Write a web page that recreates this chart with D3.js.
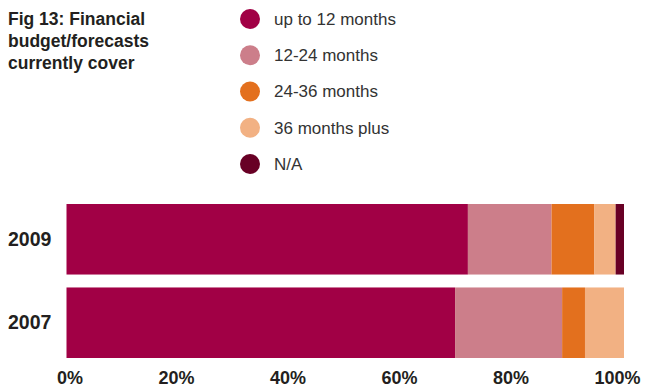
<!DOCTYPE html>
<html>
<head>
<meta charset="utf-8">
<script src="https://cdn.jsdelivr.net/npm/d3@7"></script>
<style>
  html, body { margin: 0; padding: 0; background: #fff; }
  svg { display: block; }
</style>
</head>
<body>
<svg id="chart" width="650" height="389"></svg>
<script>
// Share of respondents by how far ahead budgets/forecasts reach
const years = ["2009", "2007"];
const seriesNames = ["up to 12 months", "12-24 months", "24-36 months", "36 months plus", "N/A"];
const values2009 = [72, 15, 7.7, 3.8, 1.5];
const values2007 = [69.7, 19.2, 4.1, 7, 0];
const tickValues = [0, 20, 40, 60, 80, 100];
const colors = ["#A10045", "#CC7E8A", "#E3701E", "#F2B183", "#680025"];
const titleLines = ["Fig 13: Financial", "budget/forecasts", "currently cover"];

const fontFamily = "'Liberation Sans Narrow', 'Arial Narrow', 'Liberation Sans', Arial, sans-serif";
const svg = d3.select("#chart");

const rows = [
  { year: years[0], values: values2009 },
  { year: years[1], values: values2007 }
];

// Title
svg.append("text")
  .attr("x", 8)
  .attr("font-family", fontFamily)
  .attr("font-weight", "bold")
  .attr("font-size", 17.5)
  .attr("fill", "#231f20")
  .selectAll("tspan")
  .data(titleLines)
  .join("tspan")
  .attr("x", 8)
  .attr("y", (d, i) => 25 + i * 22)
  .text(d => d);

// Legend
const legendY = d3.scalePoint().domain(seriesNames).range([19, 164]);
const legend = svg.append("g")
  .selectAll("g")
  .data(seriesNames)
  .join("g")
  .attr("transform", d => `translate(0,${legendY(d)})`);
legend.append("circle")
  .attr("cx", 250)
  .attr("r", 10)
  .attr("fill", (d, i) => colors[i]);
legend.append("text")
  .attr("x", 274)
  .attr("dy", "0.35em")
  .attr("font-family", fontFamily)
  .attr("font-size", 17)
  .attr("fill", "#333")
  .text(d => d);

// Stacked bars
const x = d3.scaleLinear().domain([0, 100]).range([66.5, 624]);
const y = d3.scaleBand().domain(years).range([204, 358]).paddingInner(0.155).paddingOuter(0);

const stackData = rows.map(r => {
  const o = { year: r.year };
  seriesNames.forEach((s, i) => { o[s] = r.values[i]; });
  return o;
});
const stacked = d3.stack().keys(seriesNames)(stackData);

svg.append("g")
  .selectAll("g")
  .data(stacked)
  .join("g")
  .attr("fill", (d, i) => colors[i])
  .selectAll("rect")
  .data(d => d)
  .join("rect")
  .attr("x", d => x(d[0]))
  .attr("y", d => y(d.data.year))
  .attr("width", d => Math.max(0, x(d[1]) - x(d[0])))
  .attr("height", y.bandwidth());

// Year labels
const yAxis = svg.append("g")
  .attr("transform", "translate(8,0)")
  .call(d3.axisLeft(y).tickSize(0).tickPadding(0));
yAxis.select(".domain").remove();
yAxis.selectAll("text")
  .attr("text-anchor", "start")
  .attr("font-family", fontFamily)
  .attr("font-weight", "bold")
  .attr("font-size", 19.5)
  .attr("fill", "#231f20");

// Percentage axis
const xAxis = svg.append("g")
  .attr("transform", "translate(0,370)")
  .call(d3.axisBottom(x).tickValues(tickValues).tickFormat(d => d + "%").tickSize(0).tickPadding(0));
xAxis.select(".domain").remove();
xAxis.selectAll("text")
  .attr("text-anchor", "end")
  .attr("x", 16)
  .attr("dy", "0.8em")
  .attr("font-family", fontFamily)
  .attr("font-weight", "bold")
  .attr("font-size", 18)
  .attr("fill", "#231f20");
</script>
</body>
</html>
